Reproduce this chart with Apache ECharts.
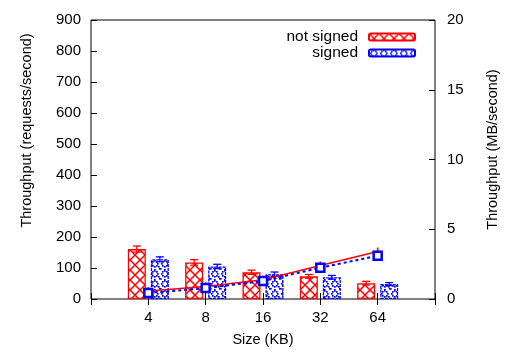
<!DOCTYPE html>
<html>
<head>
<meta charset="utf-8">
<script src="https://cdn.jsdelivr.net/npm/echarts@6/dist/echarts.min.js"></script>
<style>html,body{margin:0;padding:0;background:#fff}#c{width:527px;height:352px}</style>
</head>
<body>
<div id="c"></div>
<script>
// ---- data ----
const categories = ['4', '8', '16', '32', '64'];
const reqNotSigned = [161, 118, 86, 73, 51];
const reqSigned = [128, 105, 80, 70, 48];
const reqErrNotSigned = [10, 9, 7, 6, 6];
const reqErrSigned = [8, 7, 7, 6, 5];
const mbNotSigned = [0.57, 0.9, 1.38, 2.4, 3.4];
const mbSigned = [0.43, 0.78, 1.29, 2.24, 3.1];
const leftTicks = [0, 100, 200, 300, 400, 500, 600, 700, 800, 900];
const rightTicks = [0, 5, 10, 15, 20];

// ---- patterns ----
function redPattern() {
  const c = document.createElement('canvas');
  c.width = 10; c.height = 10;
  const g = c.getContext('2d');
  g.fillStyle = '#fff'; g.fillRect(0, 0, 10, 10);
  g.strokeStyle = '#ff0000'; g.lineWidth = 1.5;
  g.beginPath();
  g.moveTo(0, 0); g.lineTo(10, 10);
  g.moveTo(10, 0); g.lineTo(0, 10);
  g.stroke();
  return c;
}
function bluePattern() {
  const c = document.createElement('canvas');
  c.width = 10; c.height = 10;
  const g = c.getContext('2d');
  g.fillStyle = '#fff'; g.fillRect(0, 0, 10, 10);
  g.fillStyle = '#0000ff';
  const pts = [[4,0],[6,1],[7,3],[6,5],[4,6],[2,5],[1,3],[2,1],[9,8],[0,8],[4,9],[8,6]];
  pts.forEach(p => g.fillRect(p[0], p[1], 1.7, 1.7));
  return c;
}

const axisCats = [''].concat(categories, ['']);
const toPairs = arr => arr.map((v, i) => [i + 1, v]);
const font = '"Liberation Sans", Arial, Helvetica, sans-serif';
const TICK_FS = 15, NAME_FS = 14.5, LEG_FS = 15.5;
const BW = 18, GAP = 5;

function errRender(side, color) {
  return function (params, api) {
    const x = api.value(0), v = api.value(1), e = api.value(2);
    const off = side * (BW + GAP) / 2;
    const top = api.coord([x, v + e]);
    const bot = api.coord([x, v - e]);
    const cx = top[0] + off;
    const cap = 4;
    const st = { stroke: color, lineWidth: 1.3 };
    return {
      type: 'group',
      children: [
        { type: 'line', shape: { x1: cx, y1: top[1], x2: cx, y2: bot[1] }, style: st },
        { type: 'line', shape: { x1: cx - cap, y1: top[1], x2: cx + cap, y2: top[1] }, style: st },
        { type: 'line', shape: { x1: cx - cap, y1: bot[1], x2: cx + cap, y2: bot[1] }, style: st }
      ]
    };
  };
}

const chart = echarts.init(document.getElementById('c'), null, { renderer: 'canvas' });
chart.setOption({
  animation: false,
  backgroundColor: '#fff',
  textStyle: { fontFamily: font },
  grid: { left: 91, right: 92, top: 20, bottom: 52, show: true, borderColor: '#000', borderWidth: 1, backgroundColor: 'transparent' },
  legend: [
    { data: ['not signed'], orient: 'vertical', right: 111, top: 29, padding: 0, align: 'right',
      itemWidth: 46, itemHeight: 7, selectedMode: false,
      textStyle: { fontFamily: font, fontSize: LEG_FS, color: '#000', padding: [0, 6, 0, 0] } },
    { data: ['signed'], orient: 'vertical', right: 111, top: 45, padding: 0, align: 'right',
      itemWidth: 46, itemHeight: 7, selectedMode: false,
      textStyle: { fontFamily: font, fontSize: LEG_FS, color: '#000', padding: [0, 6, 0, 0] } }
  ],
  xAxis: [
    { type: 'category', data: axisCats, boundaryGap: false, position: 'bottom',
      name: 'Size (KB)', nameLocation: 'middle', nameGap: 33,
      nameTextStyle: { fontFamily: font, fontSize: NAME_FS, color: '#000' },
      axisLine: { show: false },
      axisTick: { show: true, inside: true, length: 6, lineStyle: { color: '#000' } },
      axisLabel: { fontFamily: font, fontSize: TICK_FS, color: '#000', margin: 11 },
      splitLine: { show: false } },
    { type: 'category', data: axisCats, boundaryGap: false, position: 'top',
      axisLine: { show: false },
      axisTick: { show: true, inside: true, length: 6, lineStyle: { color: '#000' } },
      axisLabel: { show: false }, splitLine: { show: false } }
  ],
  yAxis: [
    { type: 'value', min: 0, max: 900, interval: 100, position: 'left',
      name: 'Throughput (requests/second)', nameLocation: 'middle', nameGap: 57, nameRotate: 90,
      nameTextStyle: { fontFamily: font, fontSize: NAME_FS, color: '#000', padding: [0, 0, 0, 58] },
      axisLine: { show: false },
      axisTick: { show: true, inside: true, length: 6, lineStyle: { color: '#000' } },
      axisLabel: { fontFamily: font, fontSize: TICK_FS, color: '#000', margin: 10,
        formatter: v => leftTicks.indexOf(v) >= 0 ? String(v) : '' },
      splitLine: { show: false } },
    { type: 'value', min: 0, max: 20, interval: 5, position: 'right',
      name: 'Throughput (MB/second)', nameLocation: 'middle', nameGap: 50, nameRotate: 90,
      nameTextStyle: { fontFamily: font, fontSize: NAME_FS, color: '#000', padding: [0, 0, 0, 20] },
      axisLine: { show: false },
      axisTick: { show: true, inside: true, length: 6, lineStyle: { color: '#000' } },
      axisLabel: { fontFamily: font, fontSize: TICK_FS, color: '#000', margin: 12,
        formatter: v => rightTicks.indexOf(v) >= 0 ? String(v) : '' },
      splitLine: { show: false } }
  ],
  series: [
    { name: 'not signed', type: 'bar', xAxisIndex: 0, yAxisIndex: 0, data: toPairs(reqNotSigned),
      barWidth: BW, barGap: (GAP / BW * 100) + '%',
      itemStyle: { color: { image: redPattern(), repeat: 'repeat' }, borderColor: '#ff0000', borderWidth: 1.3 } },
    { name: 'signed', type: 'bar', xAxisIndex: 0, yAxisIndex: 0, data: toPairs(reqSigned),
      barWidth: BW,
      itemStyle: { color: { image: bluePattern(), repeat: 'repeat' }, borderColor: '#0000ff', borderWidth: 1.3, borderType: [3, 1] } },
    { name: 'err1', type: 'custom', xAxisIndex: 0, yAxisIndex: 0, renderItem: errRender(-1, '#ff0000'),
      data: reqNotSigned.map((v, i) => [i + 1, v, reqErrNotSigned[i]]), z: 3 },
    { name: 'err2', type: 'custom', xAxisIndex: 0, yAxisIndex: 0, renderItem: errRender(1, '#0000ff'),
      data: reqSigned.map((v, i) => [i + 1, v, reqErrSigned[i]]), z: 3 },
    { name: 'mb not signed', type: 'line', xAxisIndex: 0, yAxisIndex: 1, data: toPairs(mbNotSigned),
      symbol: 'path://M4,0h2v10h-2zM0,4h10v2h-10z', symbolSize: 8,
      lineStyle: { color: '#ff0000', width: 1.5 }, itemStyle: { color: '#ff0000' }, z: 4 },
    { name: 'mb signed', type: 'line', xAxisIndex: 0, yAxisIndex: 1, data: toPairs(mbSigned),
      symbol: 'rect', symbolSize: 8,
      lineStyle: { color: '#0000ff', width: 2, type: [3, 3] },
      itemStyle: { color: '#fff', borderColor: '#0000ff', borderWidth: 2.5 }, z: 5 }
  ]
});
</script>
</body>
</html>
